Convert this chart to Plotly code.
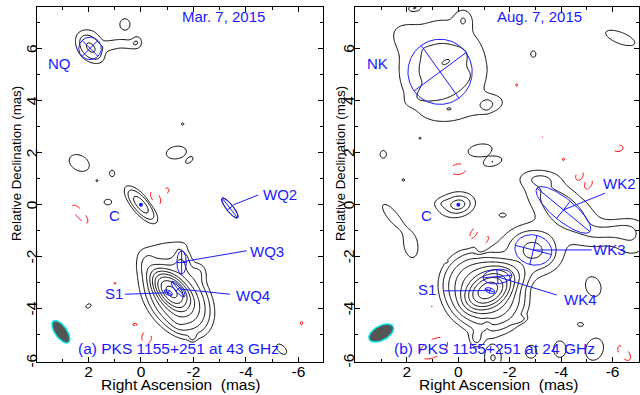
import numpy as np
import plotly.graph_objects as go

FONT = "Liberation Sans, Arial, Helvetica, sans-serif"
BLUE = "#1a1aff"

# ---------------- Panel (a): 43 GHz, Mar. 7, 2015 ----------------
# Brightness model (Gaussian components): RA (mas), Dec (mas), FWHM major, FWHM minor (mas), PA (deg), peak (units of lowest contour)
A_X    = [1.9, 1.95, 1.1, 0.5, 0.15, 0.61, -1.59, -1.35, -1.85, 2.35, 1.1, 1.68, 1.26, 0.0,
          -3.39, -1.15, -1.45, -1.4, -1.3, -1.55, -0.25, -1.0, -2.2, -1.4, 2.0, -1.97, -5.36,
          -0.55, -1.0, 2.32, 0.99, 0.23, -0.22, -6.12]
A_Y    = [6.0, 6.15, 6.12, 6.15, 6.27, 6.92, 3.1, 2.0, 1.7, 1.6, 1.2, 0.92, 0.1, 0.0,
          -0.13, -3.35, -3.25, -3.6, -3.4, -2.2, -2.3, -1.65, -2.6, -4.5, -3.89, -5.07, -5.55,
          0.25, 0.55, -0.36, -3.02, -4.6, -5.1, -4.55]
A_MAJ  = [0.9, 1.15, 0.7, 0.7, 0.4, 0.45, 0.12, 0.8, 0.4, 0.85, 0.25, 0.1, 0.3, 1.14,
          1.0, 0.85, 0.75, 1.5, 2.4, 0.8, 0.9, 1.2, 0.6, 0.6, 0.22, 0.25, 0.5,
          0.6, 0.2, 0.9, 0.1, 0.2, 0.5, 0.15]
A_MIN  = [0.5, 0.95, 0.35, 0.35, 0.35, 0.4, 0.12, 0.5, 0.2, 0.6, 0.2, 0.1, 0.22, 0.44,
          0.28, 0.45, 0.3, 1.0, 1.6, 0.5, 0.6, 0.35, 0.5, 0.4, 0.15, 0.2, 0.28,
          0.35, 0.15, 0.3, 0.1, 0.1, 0.4, 0.1]
A_PA   = [40, 0, 100, 80, 0, 0, 0, 100, 130, 60, 0, 0, 90, 40,
          38, 40, 40, 35, 35, 0, 20, 100, 0, 40, 120, 0, 45,
          30, 0, 40, 0, 90, 0, 0]
A_PEAK = [3.0, 1.6, 1.5, 1.5, 1.6, 1.9, 1.5, 1.9, 1.4, 1.9, 1.9, 1.5, 1.9, 5.6,
          1.9, 300, 60, 25, 3, 3, 1.5, 1.4, 1.4, 2, 1.9, 1.9, 1.9,
          -1.9, -1.9, -1.9, -1.5, -1.7, -1.9, -1.7]

# Model-fit components (blue ellipses)
A_MOD_X   = [1.94, -3.39, -1.55, -1.42, -1.04]
A_MOD_Y   = [6.0, -0.13, -2.22, -3.24, -3.38]
A_MOD_MAJ = [0.86, 0.95, 0.9, 0.75, 0.35]
A_MOD_MIN = [0.86, 0.25, 0.36, 0.25, 0.18]
A_MOD_PA  = [45, 38, 0, 40, 60]
A_CORE = (0.0, 0.0)
A_BEAM = (3.05, -4.88, 1.0, 0.45, 35)

A_LAB_TEXT = ["NQ", "C", "WQ2", "WQ3", "WQ4", "S1"]
A_LAB_X    = [3.09, 1.02, -5.3, -4.79, -4.28, 1.02]
A_LAB_Y    = [5.43, -0.4, 0.4, -1.8, -3.5, -3.4]
A_LINE_X0  = [-3.52, -1.59, -1.49, 0.61]
A_LINE_Y0  = [-0.01, -2.19, -3.24, -3.44]
A_LINE_X1  = [-4.47, -4.03, -3.39, -1.04]
A_LINE_Y1  = [0.37, -1.77, -3.44, -3.38]
A_DATE = "Mar. 7, 2015"
A_TITLE = "(a) PKS 1155+251 at 43 GHz"

# ---------------- Panel (b): 24 GHz, Aug. 7, 2015 ----------------
B_X    = [0.6, 0.45, 0.75, -0.2, -1.2, -1.1, -2.92, -6.3, 1.7, 1.49, 2.92, 2.14, -0.85, -1.33,
          0.0, 0.1, 0.6, 2.55, 1.85,
          -1.15, -1.52, -1.0, -1.0, -2.92, -4.09, -6.0, -6.8, -3.2, -5.25, -1.72, -2.35, -4.75,
          -0.7, -1.35, -2.83, -3.95, -5.3, 2.05, 0.3,
          0.0, -2.27, -3.28, -4.09, -6.23, -4.7, -5.05, -0.6, -1.05, 0.45, 1.03, -1.13, 0.94, -6.45]
B_Y    = [5.2, 5.5, 4.45, 7.1, 3.85, 3.79, 5.78, 6.4, 7.55, 2.55, 1.93, 0.95, 2.08, 1.65,
          0.0, 0.0, 0.05, -0.45, -1.55,
          -3.3, -2.76, -3.35, -3.3, -1.74, -0.2, -1.0, -1.3, 1.0, -3.15, -0.4, -4.42, -4.6,
          -5.15, -5.9, -5.65, -5.55, -5.55, 6.45, 3.6,
          1.36, 4.59, 2.6, 1.74, 2.16, 1.1, 0.78, -1.1, -1.45, -2.19, -3.91, -4.55, -5.5, -5.7]
B_MAJ  = [3.2, 1.0, 1.6, 0.6, 1.0, 0.35, 0.25, 1.25, 0.4, 0.08, 0.3, 0.12, 0.9, 0.7,
          0.6, 1.5, 0.5, 1.2, 1.0,
          0.9, 1.2, 1.6, 2.4, 1.6, 2.8, 1.6, 1.2, 1.2, 0.8, 0.25, 0.45, 0.25,
          0.5, 0.8, 0.5, 0.65, 0.9, 1.1, 1.4,
          0.65, 0.15, 0.06, 0.12, 0.38, 0.45, 0.5, 0.7, 0.9, 0.06, 0.08, 0.35, 1.3, 0.7]
B_MIN  = [2.9, 0.45, 0.45, 0.5, 0.55, 0.28, 0.2, 0.45, 0.2, 0.08, 0.25, 0.12, 0.45, 0.33,
          0.4, 1.0, 0.3, 0.4, 0.55,
          0.6, 0.7, 1.3, 2.0, 1.3, 1.3, 0.7, 1.2, 0.5, 0.6, 0.15, 0.2, 0.15,
          0.4, 0.6, 0.45, 0.5, 0.7, 0.8, 0.5,
          0.45, 0.1, 0.06, 0.12, 0.25, 0.3, 0.3, 0.3, 0.3, 0.06, 0.08, 0.25, 0.7, 0.35]
B_PA   = [0, 115, 113, 0, 100, 0, 0, 69, 100, 0, 0, 0, 100, 105,
          100, 100, 90, 40, 10,
          120, 95, 60, 0, 76, 51, 100, 0, 90, 20, 90, 100, 90,
          0, 0, 0, 0, 160, 60, 95,
          100, 0, 0, 0, 100, 150, 150, 150, 150, 0, 0, 0, 120, 40]
B_PEAK = [2.6, 1.6, 1.6, 1.3, 1.5, 0.8, 1.9, 1.9, 1.7, 1.5, 1.9, 1.6, 1.9, 1.9,
          4.0, 1.8, 0.8, 1.9, 1.9,
          400, 20, 30, 3, 4.5, 3.0, 1.5, 1.7, 1.2, 1.9, 1.9, 1.9, 1.9,
          1.9, 2.0, 1.9, 1.9, 1.9, 0.9, 0.7,
          -1.9, -1.6, -1.3, -1.6, -1.9, -1.9, -1.9, -1.9, -1.9, -1.5, -1.5, -1.9, -1.9, -1.9]

B_MOD_X   = [0.71, -4.09, -2.92, -1.52, -1.23]
B_MOD_Y   = [5.1, -0.2, -1.74, -2.76, -3.3]
B_MOD_MAJ = [2.5, 2.65, 1.45, 1.13, 0.4]
B_MOD_MIN = [2.5, 0.85, 1.15, 0.56, 0.2]
B_MOD_PA  = [36, 51, 76, 95, 70]
B_CORE = (0.0, 0.0)
B_BEAM = (3.0, -4.93, 1.05, 0.55, -62)

B_LAB_TEXT = ["NK", "C", "WK2", "WK3", "WK4", "S1"]
B_LAB_X    = [3.15, 1.23, -6.27, -5.9, -4.74, 1.23]
B_LAB_Y    = [5.43, -0.4, 0.82, -1.74, -3.66, -3.27]
B_LINE_X0  = [-4.09, -2.92, -1.49, 0.58]
B_LINE_Y0  = [-0.2, -1.74, -2.76, -3.31]
B_LINE_X1  = [-5.71, -5.19, -3.83, -1.23]
B_LINE_Y1  = [0.44, -1.74, -3.47, -3.3]
B_DATE = "Aug. 7, 2015"
B_TITLE = "(b) PKS 1155+251 at 24 GHz"

X_TICKS = [2, 0, -2, -4, -6]
Y_TICKS = [6, 4, 2, 0, -2, -4, -6]
A_XRANGE = [3.95, -6.92]
B_XRANGE = [4.02, -7.03]
YRANGE = [-6.03, 7.6]
N_POS_LEVELS = 9          # contours at 1, 2, 4, ... 256 x lowest level
N_NEG_LEVELS = 1          # contour at -1 x lowest level


def field(xs, ys, mx, my, maj, mn, pa, pk):
    XX, YY = np.meshgrid(xs, ys)
    F = np.zeros_like(XX)
    for x0, y0, a, b, p, k in zip(mx, my, maj, mn, pa, pk):
        t = np.radians(p)
        dx, dy = XX - x0, YY - y0
        u = dx * np.sin(t) + dy * np.cos(t)
        v = dx * np.cos(t) - dy * np.sin(t)
        sa, sb = a / 2.3548, b / 2.3548
        F += k * np.exp(-0.5 * (u ** 2 / sa ** 2 + v ** 2 / sb ** 2))
    return F


def ellipse(x0, y0, maj, mn, pa, n=120):
    t = np.linspace(0, 2 * np.pi, n)
    p = np.radians(pa)
    u, v = maj / 2 * np.cos(t), mn / 2 * np.sin(t)
    return x0 + u * np.sin(p) + v * np.cos(p), y0 + u * np.cos(p) - v * np.sin(p)


def axes_cross(x0, y0, maj, mn, pa):
    p = np.radians(pa)
    a, b = maj / 2, mn / 2
    xs = [x0 - a * np.sin(p), x0 + a * np.sin(p), None, x0 - b * np.cos(p), x0 + b * np.cos(p), None]
    ys = [y0 - a * np.cos(p), y0 + a * np.cos(p), None, y0 + b * np.sin(p), y0 - b * np.sin(p), None]
    return xs, ys


fig = go.Figure()
gx = np.arange(-7.3, 4.3, 0.035)
gy = np.arange(-6.3, 7.9, 0.035)

panels = [
    ("x", "y", A_X, A_Y, A_MAJ, A_MIN, A_PA, A_PEAK, A_MOD_X, A_MOD_Y, A_MOD_MAJ, A_MOD_MIN, A_MOD_PA,
     A_CORE, A_BEAM, A_LAB_TEXT, A_LAB_X, A_LAB_Y, A_LINE_X0, A_LINE_Y0, A_LINE_X1, A_LINE_Y1, A_DATE, A_TITLE),
    ("x2", "y2", B_X, B_Y, B_MAJ, B_MIN, B_PA, B_PEAK, B_MOD_X, B_MOD_Y, B_MOD_MAJ, B_MOD_MIN, B_MOD_PA,
     B_CORE, B_BEAM, B_LAB_TEXT, B_LAB_X, B_LAB_Y, B_LINE_X0, B_LINE_Y0, B_LINE_X1, B_LINE_Y1, B_DATE, B_TITLE),
]

annotations = []
for (xa, ya, cx, cy, cmaj, cmin, cpa, cpk, mx, my, mmaj, mmin, mpa, core, beam,
     ltxt, lx, ly, lx0, ly0, lx1, ly1, date, title) in panels:
    F = field(gx, gy, cx, cy, cmaj, cmin, cpa, cpk)
    # level index: 1 at the lowest contour, 2 at twice that, ...
    zpos = (np.log2(np.clip(F, 2 ** -4, None)) + 1).astype(np.float32)
    zneg = (np.log2(np.clip(-F, 2 ** -4, None)) + 1).astype(np.float32)
    fig.add_trace(go.Contour(x=gx, y=gy, z=zpos, xaxis=xa, yaxis=ya, autocontour=False,
                             contours=dict(start=1, end=N_POS_LEVELS, size=1, coloring="lines"),
                             colorscale=[[0, "black"], [1, "black"]], showscale=False,
                             line=dict(width=1), hoverinfo="skip"))
    fig.add_trace(go.Contour(x=gx, y=gy, z=zneg, xaxis=xa, yaxis=ya, autocontour=False,
                             contours=dict(start=1, end=N_NEG_LEVELS, size=1, coloring="lines"),
                             colorscale=[[0, "red"], [1, "red"]], showscale=False,
                             line=dict(width=1, dash="dash"), hoverinfo="skip"))
    # beam
    bx, by = ellipse(*beam)
    fig.add_trace(go.Scatter(x=bx, y=by, xaxis=xa, yaxis=ya, mode="lines", fill="toself",
                             fillcolor="#555555", line=dict(color="#00e5e5", width=1.5),
                             hoverinfo="skip"))
    # model components
    ex, ey = [], []
    for x0, y0, a, b, p in zip(mx, my, mmaj, mmin, mpa):
        xs, ys = ellipse(x0, y0, a, b, p)
        ex += list(xs) + [None]
        ey += list(ys) + [None]
        xs, ys = axes_cross(x0, y0, a, b, p)
        ex += xs
        ey += ys
    for x0, y0, x1, y1 in zip(lx0, ly0, lx1, ly1):
        ex += [x0, x1, None]
        ey += [y0, y1, None]
    fig.add_trace(go.Scatter(x=ex, y=ey, xaxis=xa, yaxis=ya, mode="lines",
                             line=dict(color=BLUE, width=1), hoverinfo="skip"))
    fig.add_trace(go.Scatter(x=[core[0]], y=[core[1]], xaxis=xa, yaxis=ya, mode="markers",
                             marker=dict(color=BLUE, size=4), hoverinfo="skip"))
    for t, x, y in zip(ltxt, lx, ly):
        annotations.append(dict(text=t, x=x, y=y, xref=xa, yref=ya, showarrow=False,
                                xanchor="center", yanchor="middle",
                                font=dict(size=15, color=BLUE, family=FONT)))
    annotations.append(dict(text=date, x=-3.15, y=7.21, xref=xa, yref=ya, showarrow=False,
                            xanchor="center", yanchor="middle",
                            font=dict(size=15, color=BLUE, family=FONT)))
    annotations.append(dict(text=title, x=-1.42, y=-5.51, xref=xa, yref=ya, showarrow=False,
                            xanchor="center", yanchor="middle",
                            font=dict(size=15.5, color=BLUE, family=FONT)))

# rotated y tick labels, placed on the y-axis scale
for xc, ya in [(31.7 / 640, "y"), (348.5 / 640, "y2")]:
    for v in Y_TICKS:
        annotations.append(dict(text=str(v), x=xc, y=v, xref="paper", yref=ya, showarrow=False,
                                textangle=-90, xanchor="center", yanchor="middle",
                                font=dict(size=15.5, color="black", family=FONT)))

# axis titles
for xc in [180 / 640, 498.3 / 640]:
    annotations.append(dict(text="Right Ascension\u00a0 (mas)", x=xc, y=1 - 384.5 / 395, xref="paper",
                            yref="paper", showarrow=False, xanchor="center", yanchor="middle",
                            font=dict(size=15.5, color="black", family=FONT)))
for xc in [16 / 640, 340 / 640]:
    annotations.append(dict(text="Relative Declination (mas)", x=xc, y=1 - 164 / 395, xref="paper",
                            yref="paper", showarrow=False, textangle=-90, xanchor="center",
                            yanchor="middle", font=dict(size=13.3, color="black", family=FONT)))

axis_common = dict(showline=True, linecolor="black", linewidth=1, mirror="ticks", ticks="inside",
                   ticklen=5, tickwidth=1, tickcolor="black", showgrid=False, zeroline=False,
                   tickfont=dict(size=15.5, color="black", family=FONT),
                   minor=dict(ticks="inside", ticklen=3, tickcolor="black", dtick=1, tick0=0))
xt = dict(tickmode="array", tickvals=X_TICKS, ticktext=[str(v) for v in X_TICKS], ticklabelstandoff=-4)
yt = dict(tickmode="array", tickvals=Y_TICKS, showticklabels=False)

fig.update_layout(
    width=640, height=395, margin=dict(l=0, r=0, t=0, b=0),
    paper_bgcolor="white", plot_bgcolor="white", showlegend=False,
    xaxis=dict(domain=[37.3 / 640, 322.5 / 640], range=A_XRANGE, anchor="y", **axis_common, **xt),
    yaxis=dict(domain=[1 - 361.7 / 395, 1 - 6.7 / 395], range=YRANGE, anchor="x", **axis_common, **yt),
    xaxis2=dict(domain=[355 / 640, 639 / 640], range=B_XRANGE, anchor="y2", **axis_common, **xt),
    yaxis2=dict(domain=[1 - 361.7 / 395, 1 - 6.7 / 395], range=YRANGE, anchor="x2", **axis_common, **yt),
    annotations=annotations,
)

fig.write_html("out.html", config={"displayModeBar": False},
               post_script="document.body.style.margin='0px';document.body.style.overflow='hidden';")
